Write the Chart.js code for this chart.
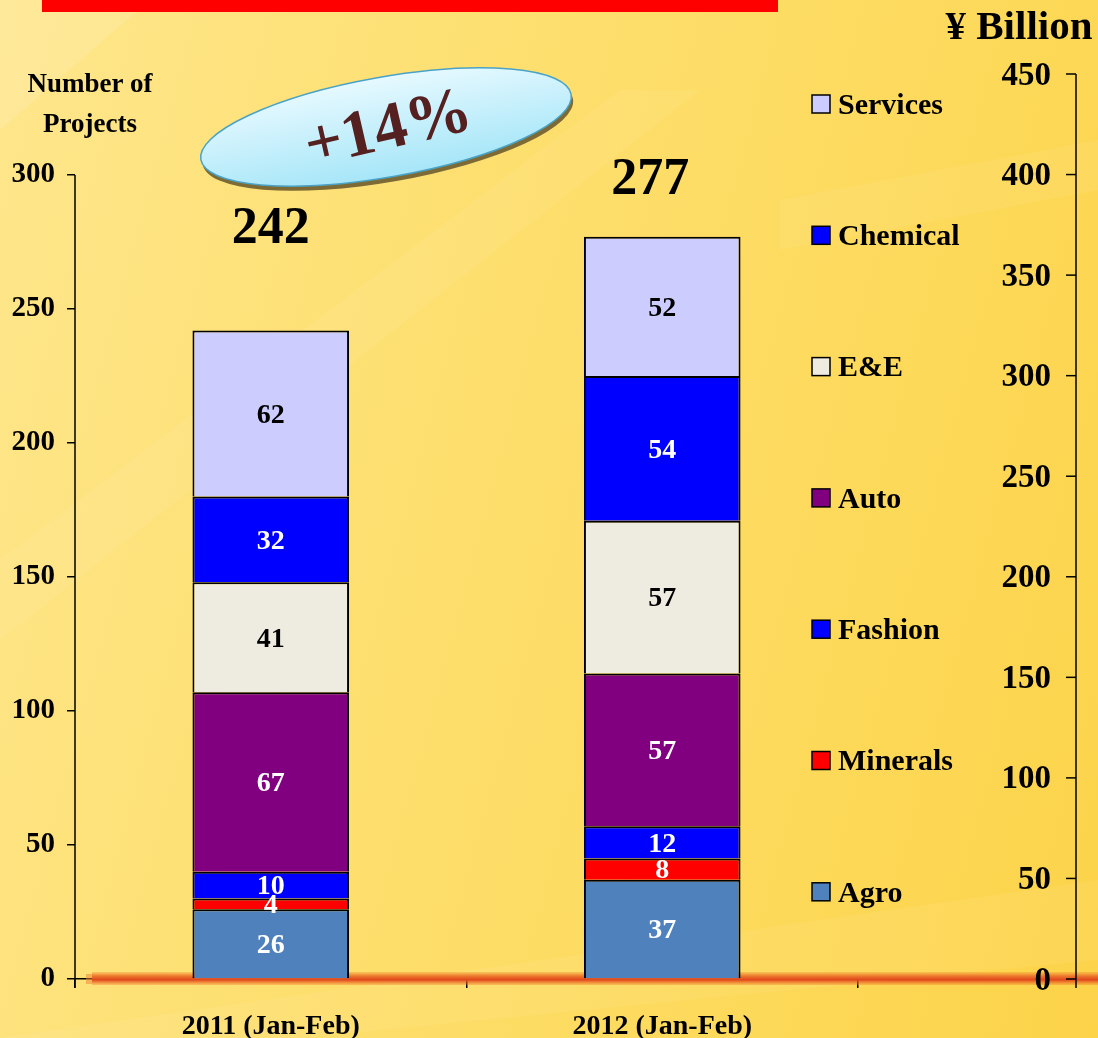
<!DOCTYPE html>
<html>
<head>
<meta charset="utf-8">
<script src="https://cdn.jsdelivr.net/npm/chart.js@4.4.1/dist/chart.umd.min.js"></script>
<style>
html, body { margin: 0; padding: 0; }
body {
    width: 1098px; height: 1038px; overflow: hidden;
    background: linear-gradient(105deg, #fee68c 0%, #fde072 35%, #fdda5c 70%, #fcd349 100%);
}
canvas { position: absolute; left: 0; top: 0; }
</style>
</head>
<body>
<canvas id="chart" width="1098" height="1038"></canvas>
<script>
// Data
const categories = ['2011 (Jan-Feb)', '2012 (Jan-Feb)'];
const agro = [26, 37];
const minerals = [4, 8];
const fashion = [10, 12];
const auto = [67, 57];
const ee = [41, 57];
const chemical = [32, 54];
const services = [62, 52];
const totals = [242, 277];
const leftTicks = [0, 50, 100, 150, 200, 250, 300];
const rightTicks = [0, 50, 100, 150, 200, 250, 300, 350, 400, 450];
const growthText = '+14%';

const FONT = 'Liberation Serif';

const seriesList = [
    { label: 'Agro', data: agro, color: '#4f81bd', text: '#ffffff' },
    { label: 'Minerals', data: minerals, color: '#ff0000', text: '#ffffff' },
    { label: 'Fashion', data: fashion, color: '#0000ff', text: '#ffffff' },
    { label: 'Auto', data: auto, color: '#800080', text: '#ffffff' },
    { label: 'E&E', data: ee, color: '#eeece1', text: '#000000' },
    { label: 'Chemical', data: chemical, color: '#0000ff', text: '#ffffff' },
    { label: 'Services', data: services, color: '#ccccff', text: '#000000' }
];

// background streaks, red title bar and the orange floor line
const backdropPlugin = {
    id: 'backdrop',
    beforeDraw(chart) {
        const ctx = chart.ctx;
        ctx.save();
        ctx.fillStyle = 'rgba(255,255,255,0.12)';
        ctx.beginPath();
        ctx.moveTo(0, 0); ctx.lineTo(150, 0); ctx.lineTo(0, 130); ctx.closePath();
        ctx.fill();
        ctx.fillStyle = 'rgba(255,255,255,0.06)';
        ctx.beginPath();
        ctx.moveTo(0, 560); ctx.lineTo(620, 90); ctx.lineTo(700, 90); ctx.lineTo(0, 640); ctx.closePath();
        ctx.fill();
        ctx.beginPath();
        ctx.moveTo(780, 200); ctx.lineTo(1098, 140); ctx.lineTo(1098, 190); ctx.lineTo(780, 250); ctx.closePath();
        ctx.fill();
        ctx.beginPath();
        ctx.moveTo(0, 1038); ctx.lineTo(1098, 880); ctx.lineTo(1098, 960); ctx.lineTo(300, 1038); ctx.closePath();
        ctx.fill();
        // red bar at the top
        ctx.fillStyle = '#ff0000';
        ctx.fillRect(42, 0, 736, 12);
        ctx.restore();
    },
    beforeDatasetsDraw(chart) {
        const ctx = chart.ctx;
        const y0 = chart.scales.y.getPixelForValue(0);
        ctx.save();
        const g = ctx.createLinearGradient(0, y0 - 7, 0, y0 + 6);
        g.addColorStop(0, 'rgba(245,140,50,0.3)');
        g.addColorStop(0.3, '#ec7a2e');
        g.addColorStop(0.6, '#e0461a');
        g.addColorStop(1, 'rgba(240,120,40,0.3)');
        ctx.fillStyle = g;
        ctx.fillRect(92, y0 - 7, 1006, 13);
        ctx.fillStyle = 'rgba(240,130,50,0.5)';
        ctx.fillRect(86, y0 - 5, 6, 10);
        ctx.restore();
    }
};

// axes lines, legend, value labels, totals and the ellipse
const overlayPlugin = {
    id: 'overlay',
    afterDraw(chart) {
        const ctx = chart.ctx;
        const y = chart.scales.y;
        const y2 = chart.scales.y2;
        const area = chart.chartArea;
        ctx.save();

        // left axis line (0..300)
        ctx.strokeStyle = '#000';
        ctx.lineWidth = 1.5;
        ctx.beginPath();
        ctx.moveTo(area.left, y.getPixelForValue(300));
        ctx.lineTo(area.left, area.bottom + 9);
        ctx.stroke();

        // right axis (¥ Billion)
        const rx = 1076;
        ctx.beginPath();
        ctx.moveTo(rx, y2.getPixelForValue(450));
        ctx.lineTo(rx, area.bottom + 9);
        ctx.stroke();
        ctx.fillStyle = '#000';
        ctx.font = 'bold 33px "' + FONT + '"';
        ctx.textAlign = 'right';
        ctx.textBaseline = 'middle';
        rightTicks.forEach(v => {
            const py = y2.getPixelForValue(v);
            ctx.beginPath();
            ctx.moveTo(rx - 10, py);
            ctx.lineTo(rx, py);
            ctx.stroke();
            ctx.fillText(String(v), rx - 25, py + 2);
        });

        // axis titles
        ctx.textAlign = 'center';
        ctx.font = 'bold 27px "' + FONT + '"';
        ctx.fillText('Number of', 90, 85);
        ctx.fillText('Projects', 90, 125);
        ctx.font = 'bold 41px "' + FONT + '"';
        ctx.fillText('¥ Billion', 1019, 28);

        // legend, top to bottom in reverse series order
        ctx.textAlign = 'left';
        ctx.font = 'bold 30px "' + FONT + '"';
        const legendTop = 104, legendStep = 131.3;
        seriesList.slice().reverse().forEach((s, i) => {
            const ly = legendTop + i * legendStep;
            ctx.fillStyle = s.color;
            ctx.fillRect(812, ly - 9, 18, 18);
            ctx.lineWidth = 1.5;
            ctx.strokeStyle = '#000';
            ctx.strokeRect(812, ly - 9, 18, 18);
            ctx.fillStyle = '#000';
            ctx.fillText(s.label, 838, ly + 2);
        });

        // segment values
        ctx.textAlign = 'center';
        ctx.font = 'bold 28px "' + FONT + '"';
        chart.data.datasets.forEach((ds, di) => {
            const meta = chart.getDatasetMeta(di);
            meta.data.forEach((bar, i) => {
                ctx.fillStyle = seriesList[di].text;
                ctx.fillText(String(ds.data[i]), bar.x, (bar.y + bar.base) / 2 + 2);
            });
        });

        // totals above the bars
        const top = chart.getDatasetMeta(chart.data.datasets.length - 1);
        const totalLift = [101, 56];
        const totalShift = [0, -12];
        ctx.fillStyle = '#000';
        ctx.font = 'bold 52px "' + FONT + '"';
        top.data.forEach((bar, i) => {
            ctx.fillText(String(totals[i]), bar.x + totalShift[i], bar.y - totalLift[i]);
        });

        // +14% ellipse
        const cx = 386, cy = 127, rot = -10 * Math.PI / 180;
        ctx.save();
        ctx.translate(cx, cy);
        ctx.rotate(rot);
        ctx.fillStyle = '#7d6a35';
        ctx.beginPath();
        ctx.ellipse(1, 5, 188, 50, 0, 0, Math.PI * 2);
        ctx.fill();
        const eg = ctx.createLinearGradient(0, -50, 0, 50);
        eg.addColorStop(0, '#e6f9ff');
        eg.addColorStop(1, '#a6e6f8');
        ctx.fillStyle = eg;
        ctx.strokeStyle = '#4aa3c6';
        ctx.lineWidth = 1.5;
        ctx.beginPath();
        ctx.ellipse(0, 0, 188, 50, 0, 0, Math.PI * 2);
        ctx.fill();
        ctx.stroke();
        ctx.restore();

        ctx.save();
        ctx.translate(388, 128);
        ctx.rotate(-13 * Math.PI / 180);
        ctx.fillStyle = '#552020';
        ctx.font = 'bold 66px "' + FONT + '"';
        ctx.textAlign = 'center';
        ctx.textBaseline = 'middle';
        ctx.fillText(growthText, 0, 3);
        ctx.restore();

        ctx.restore();
    }
};

new Chart(document.getElementById('chart'), {
    type: 'bar',
    data: {
        labels: categories,
        datasets: seriesList.map(s => ({
            label: s.label,
            data: s.data,
            backgroundColor: s.color,
            borderColor: '#000000',
            borderWidth: 2,
            categoryPercentage: 0.8,
            barPercentage: 0.5
        }))
    },
    options: {
        responsive: false,
        animation: false,
        devicePixelRatio: 1,
        layout: { padding: { left: 0, right: 240, top: 74, bottom: 0 } },
        plugins: {
            legend: { display: false },
            tooltip: { enabled: false }
        },
        scales: {
            x: {
                stacked: true,
                grid: { display: true, drawOnChartArea: false, offset: true, tickLength: 9, color: '#000', lineWidth: 1.5 },
                border: { display: true, color: '#000', width: 1.5 },
                ticks: { color: '#000', padding: 22, font: { family: FONT, weight: 'bold', size: 28 } },
                afterFit(scale) { scale.height = 59; }
            },
            y: {
                stacked: true,
                position: 'left',
                min: 0,
                max: 300 * 905 / 804,
                afterBuildTicks(scale) { scale.ticks = leftTicks.map(v => ({ value: v })); },
                grid: { drawOnChartArea: false, tickLength: 8, color: '#000', lineWidth: 1.5 },
                border: { display: false },
                ticks: { color: '#000', padding: 12, font: { family: FONT, weight: 'bold', size: 29 } },
                afterFit(scale) { scale.width = 75; }
            },
            y2: {
                display: false,
                position: 'right',
                min: 0,
                max: 450
            }
        }
    },
    plugins: [backdropPlugin, overlayPlugin]
});
</script>
</body>
</html>
